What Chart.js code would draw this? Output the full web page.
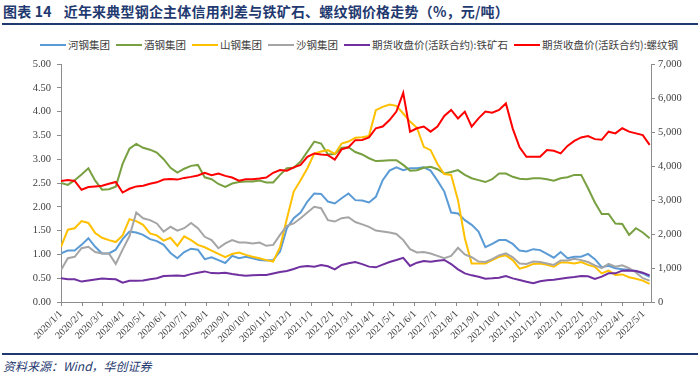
<!DOCTYPE html>
<html>
<head>
<meta charset="utf-8">
<script src="https://cdn.jsdelivr.net/npm/chart.js@4.4.1/dist/chart.umd.min.js"></script>
<style>
body { margin: 0; width: 700px; height: 377px; background: #fff; position: relative; overflow: hidden; font-family: "Noto Sans CJK SC", sans-serif; }
#title { position: absolute; left: 3px; top: 1px; font-size: 14px; font-weight: bold; color: #1f3a70; white-space: nowrap; letter-spacing: 0.2px; }
#title span { margin-left: 12px; }
.rule { position: absolute; left: 2px; width: 696px; height: 2px; background: #1f3a70; }
#legend { position: absolute; left: 40px; top: 37px; display: flex; font-size: 10.5px; color: #404040; white-space: nowrap; }
.item { display: flex; align-items: center; margin-right: 6px; }
.swatch { width: 26px; height: 2px; margin-right: 2px; }
#source { position: absolute; left: 3px; top: 357px; font-size: 12px; font-style: italic; color: #1f3a70; }
canvas { position: absolute; left: 0; top: 0; }
</style>
</head>
<body>
<div id="title">图表 14<span>近年来典型钢企主体信用利差与铁矿石、螺纹钢价格走势（%，元/吨）</span></div>
<div class="rule" style="top:23px"></div>
<div id="legend"></div>
<canvas id="chart" width="700" height="352"></canvas>
<div class="rule" style="top:353px"></div>
<div id="source">资料来源：Wind，华创证券</div>
<script>
// 10-day sampling from 2020-01-01
const startDay = Date.UTC(2020, 0, 1)
const dayMs = 86400000
const stepDays = 10

const monthLabels = ['2020/1/1', '2020/2/1', '2020/3/1', '2020/4/1', '2020/5/1', '2020/6/1', '2020/7/1', '2020/8/1',
    '2020/9/1', '2020/10/1', '2020/11/1', '2020/12/1', '2021/1/1', '2021/2/1', '2021/3/1', '2021/4/1', '2021/5/1',
    '2021/6/1', '2021/7/1', '2021/8/1', '2021/9/1', '2021/10/1', '2021/11/1', '2021/12/1', '2022/1/1', '2022/2/1',
    '2022/3/1', '2022/4/1', '2022/5/1']

const seriesNames = ['河钢集团', '酒钢集团', '山钢集团', '沙钢集团', '期货收盘价(活跃合约):铁矿石', '期货收盘价(活跃合约):螺纹钢']
const seriesColors = ['#5b9bd5', '#78a040', '#ffc000', '#a5a5a5', '#7030a0', '#ff0000']

// credit spread, % (left axis)
const hebei = [1.02, 1.08, 1.08, 1.20, 1.34, 1.16, 1.02, 1.02, 1.10, 1.32,
    1.48, 1.46, 1.41, 1.32, 1.28, 1.20, 1.03, 0.92, 1.05, 1.12,
    1.10, 0.90, 0.94, 0.88, 0.82, 0.97, 0.92, 0.95, 0.92, 0.88,
    0.87, 0.88, 1.06, 1.55, 1.76, 1.88, 2.11, 2.28, 2.27, 2.11,
    2.07, 2.18, 2.28, 2.14, 2.13, 2.09, 2.21, 2.56, 2.76, 2.83,
    2.77, 2.81, 2.81, 2.83, 2.76, 2.55, 2.32, 1.88, 1.86, 1.72,
    1.62, 1.48, 1.15, 1.22, 1.30, 1.30, 1.22, 1.08, 1.06, 1.11,
    1.09, 1.01, 0.93, 1.05, 0.92, 0.95, 0.95, 1.01, 0.90, 0.73,
    0.76, 0.71, 0.69, 0.67, 0.65, 0.60, 0.53]
const jiuquan = [2.50, 2.46, 2.56, 2.68, 2.81, 2.55, 2.36, 2.37, 2.42, 2.90,
    3.22, 3.32, 3.24, 3.20, 3.14, 3.00, 2.82, 2.72, 2.80, 2.86,
    2.88, 2.62, 2.58, 2.48, 2.42, 2.49, 2.52, 2.53, 2.53, 2.55,
    2.51, 2.51, 2.67, 2.81, 2.82, 2.95, 3.16, 3.37, 3.33, 3.10,
    3.11, 3.24, 3.25, 3.15, 3.10, 3.02, 2.96, 2.97, 2.98, 2.98,
    2.88, 2.76, 2.77, 2.82, 2.84, 2.79, 2.70, 2.73, 2.77, 2.67,
    2.60, 2.56, 2.52, 2.58, 2.70, 2.70, 2.63, 2.59, 2.58, 2.60,
    2.60, 2.58, 2.55, 2.60, 2.62, 2.67, 2.67, 2.39, 2.09, 1.85,
    1.85, 1.65, 1.64, 1.41, 1.55, 1.46, 1.34]
const shandong = [1.16, 1.52, 1.55, 1.70, 1.66, 1.45, 1.35, 1.30, 1.26, 1.40,
    1.74, 1.70, 1.62, 1.44, 1.40, 1.29, 1.35, 1.18, 1.38, 1.30,
    1.20, 1.15, 1.08, 1.01, 0.94, 1.01, 1.04, 0.99, 0.95, 0.92,
    0.88, 0.85, 1.15, 1.75, 2.32, 2.56, 2.81, 3.12, 3.16, 3.19,
    3.11, 3.33, 3.37, 3.45, 3.46, 3.49, 4.03, 4.10, 4.15, 4.12,
    3.96, 3.79, 3.66, 3.26, 3.19, 2.90, 2.69, 2.67, 2.14, 1.34,
    0.81, 0.81, 0.81, 0.88, 0.95, 0.98, 0.88, 0.70, 0.74, 0.80,
    0.81, 0.78, 0.74, 0.83, 0.83, 0.81, 0.84, 0.78, 0.74, 0.60,
    0.66, 0.57, 0.58, 0.52, 0.49, 0.45, 0.38]
const shagang = [0.67, 0.92, 0.95, 1.13, 1.16, 1.05, 1.02, 1.02, 0.80, 1.10,
    1.38, 1.88, 1.76, 1.72, 1.65, 1.48, 1.58, 1.50, 1.55, 1.66,
    1.55, 1.37, 1.30, 1.13, 1.23, 1.30, 1.25, 1.25, 1.23, 1.25,
    1.18, 1.20, 1.41, 1.60, 1.65, 1.76, 1.88, 2.00, 1.97, 1.72,
    1.69, 1.76, 1.78, 1.68, 1.63, 1.58, 1.50, 1.48, 1.46, 1.43,
    1.30, 1.11, 1.04, 1.05, 1.02, 0.97, 0.92, 0.97, 1.14, 1.00,
    0.94, 0.85, 0.84, 0.90, 0.98, 1.02, 0.94, 0.81, 0.80, 0.85,
    0.84, 0.81, 0.78, 0.87, 0.87, 0.91, 0.88, 0.84, 0.77, 0.71,
    0.80, 0.74, 0.77, 0.71, 0.62, 0.50, 0.45]

// futures close, yuan/ton (right axis)
const ironOre = [696, 666, 666, 600, 630, 660, 690, 680, 666, 568,
    627, 627, 630, 670, 700, 765, 775, 780, 765, 820,
    860, 900, 850, 845, 860, 825, 795, 770, 790, 795,
    795, 840, 880, 910, 970, 1040, 1060, 1040, 1085, 1050,
    960, 1090, 1137, 1176, 1115, 1040, 1020, 1100, 1176, 1235,
    1300, 1060, 1156, 1205, 1186, 1215, 1235, 1117, 960, 843,
    784, 745, 686, 696, 715, 765, 695, 647, 598, 550,
    610, 637, 657, 686, 715, 735, 765, 755, 676, 745,
    843, 843, 921, 930, 911, 862, 784]
const rebar = [3560, 3590, 3560, 3300, 3380, 3400, 3420, 3480, 3530, 3220,
    3330, 3400, 3420, 3480, 3520, 3600, 3620, 3600, 3650, 3680,
    3720, 3800, 3730, 3780, 3710, 3660, 3570, 3610, 3610, 3630,
    3660, 3800, 3880, 3860, 3960, 4030, 4270, 4370, 4340, 4320,
    4190, 4490, 4550, 4760, 4765, 4840, 5110, 5160, 5350, 5600,
    6150, 5010, 5110, 5160, 5010, 5160, 5470, 5650, 5400, 5600,
    5160, 5400, 5600, 5570, 5650, 5840, 5100, 4550, 4270, 4270,
    4270, 4470, 4450, 4370, 4590, 4740, 4840, 4880, 4790, 4770,
    5010, 4960, 5110, 5010, 4960, 4910, 4620]

const seriesValues = [hebei, jiuquan, shandong, shagang, ironOre, rebar]
const seriesAxis = ['y', 'y', 'y', 'y', 'y1', 'y1']

const dayOf = i => i * stepDays
const monthDays = monthLabels.map(s => {
    const [y, m, d] = s.split('/').map(Number)
    return (Date.UTC(y, m - 1, d) - startDay) / dayMs
})

// html legend
const legend = document.getElementById('legend')
seriesNames.forEach((name, i) => {
    const item = document.createElement('div')
    item.className = 'item'
    item.innerHTML = `<div class="swatch" style="background:${seriesColors[i]}"></div><span>${name}</span>`
    legend.appendChild(item)
})

const datasets = seriesValues.map((vals, i) => ({
    label: seriesNames[i],
    data: vals.map((v, k) => ({x: dayOf(k), y: v})),
    yAxisID: seriesAxis[i],
    borderColor: seriesColors[i],
    borderWidth: 2,
    pointRadius: 0,
    tension: 0,
    fill: false,
    order: seriesNames.length - i
}))

const tickFont = {family: 'Liberation Serif', size: 10.5}
const axisGrid = {drawOnChartArea: false, drawTicks: true, tickLength: 4, color: '#8c8c8c'}
const axisBorder = {display: true, color: '#8c8c8c', width: 1}

new Chart(document.getElementById('chart'), {
    type: 'line',
    data: {datasets: datasets},
    options: {
        responsive: false,
        animation: false,
        layout: {padding: {top: 64, left: 0, right: 0, bottom: 0}},
        plugins: {legend: {display: false}, tooltip: {enabled: false}},
        scales: {
            x: {
                type: 'linear',
                min: 0,
                max: 862,
                grid: axisGrid,
                border: axisBorder,
                afterBuildTicks: scale => { scale.ticks = monthDays.map(v => ({value: v})) },
                afterFit: scale => { scale.height = 50 },
                ticks: {
                    autoSkip: false,
                    maxRotation: 45,
                    minRotation: 45,
                    padding: 2,
                    color: '#404040',
                    font: {family: 'Liberation Serif', size: 10},
                    callback: (v, i) => monthLabels[i]
                }
            },
            y: {
                position: 'left',
                min: 0,
                max: 5,
                grid: axisGrid,
                border: axisBorder,
                afterFit: scale => { scale.width = 61 },
                ticks: {stepSize: 0.5, padding: 6, color: '#404040', font: tickFont, callback: v => v.toFixed(2)}
            },
            y1: {
                position: 'right',
                min: 0,
                max: 7000,
                grid: axisGrid,
                border: axisBorder,
                afterFit: scale => { scale.width = 49 },
                ticks: {stepSize: 1000, padding: 3, color: '#404040', font: tickFont}
            }
        }
    }
})
</script>
</body>
</html>
